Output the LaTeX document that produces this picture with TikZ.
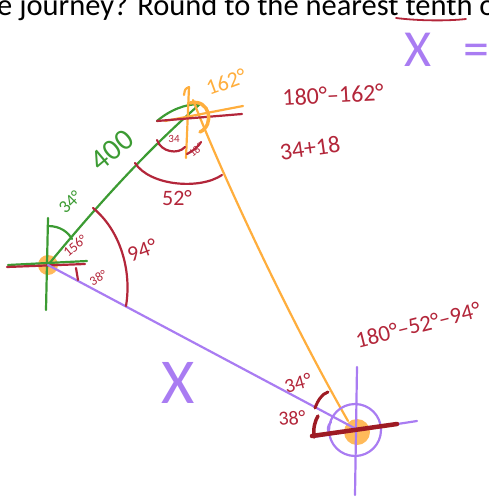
\documentclass[tikz,border=0pt]{standalone}
\usepackage{fontspec}
\setmainfont{Carlito}
\usepackage{tikz}
\usepackage{xcolor}
\definecolor{PenRed}{HTML}{B3263A}
\definecolor{PenGreen}{HTML}{3C9B33}
\definecolor{PenOrange}{HTML}{FFAE3D}
\definecolor{PenPurple}{HTML}{A97CF2}
\definecolor{PenMaroon}{HTML}{9E1B24}
\newcommand{\handsize}[1]{\fontsize{#1}{#1}\selectfont}
\tikzset{
    every node/.style={inner sep=0pt},
    pen/.style={draw=#1, line width=2.2pt, line cap=round, line join=round},
    heavypen/.style={draw=#1, line width=4.5pt, line cap=round},
    blob/.style={fill=#1, opacity=0.85},
    scrawl/.style={text=#1},
}

\begin{document}
\begin{tikzpicture}[x=1pt, y=-1pt]
    \clip (0,0) rectangle (489,498);

    % Points of the journey
    \coordinate (A) at (48,265);
    \coordinate (B) at (197,114);
    \coordinate (C) at (355,431);

    % Question text
    \node[anchor=base west, font=\handsize{30.5}] (question) at (-3,15) {e journey? Round to the nearest tenth of};
    \draw[pen=PenRed, line width=1.8pt] (396,18) .. controls (420,21) and (448,21) .. (466,19);

    % Answer line, top right
    \node[scrawl=PenPurple, font=\handsize{52}, anchor=west] (answer) at (404,50) {X\hspace{32pt}=};

    % Orange blobs
    \fill[blob=PenOrange] (A) circle (10);
    \fill[blob=PenOrange] (357,432) circle (13);

    % Cross at A
    \draw[pen=PenGreen] (48,218) -- (46,310);
    \draw[pen=PenGreen] (8,265) -- (87,261);
    \draw[pen=PenRed] (7,267) -- (85,264);

    % Leg A to B
    \draw[pen=PenGreen] (A) .. controls (105,196) and (150,148) .. (200,104);
    \draw[pen=PenGreen] (157,121) .. controls (170,110) and (185,104) .. (200,104);

    % Leg B to C
    \draw[pen=PenOrange] (193,100) .. controls (222,175) and (290,320) .. (348,421);

    % Leg A to C
    \draw[pen=PenPurple] (A) -- (358,430);

    % Cross at B
    \draw[pen=PenOrange] (184,95) .. controls (185,89) .. (189,87) -- (186,158);
    \draw[pen=PenOrange] (165,121) -- (243,106);
    \draw[pen=PenRed] (157,121) -- (242,114);
    \draw[pen=PenOrange, line width=3.5pt] (190,103) .. controls (210,98) and (215,125) .. (200,132);

    % Cross at C
    \draw[pen=PenPurple] (357,367) -- (355,495);
    \draw[pen=PenPurple] (313,437) -- (417,421);
    \draw[pen=PenPurple] (355,430) circle (26);
    \draw[pen=PenPurple] (331,422) .. controls (327,426) and (327,431) .. (330,434);
    \draw[heavypen=PenMaroon] (312,436) -- (397,424);

    % Angle marks at A
    \draw[pen=PenGreen] (48,226) .. controls (60,226) and (68,232) .. (72,239);
    \draw[pen=PenRed] (76,268) -- (78,280);
    \draw[pen=PenRed] (93,208) .. controls (120,230) and (132,270) .. (126,306);

    % Angle marks at B
    \draw[pen=PenRed] (157,140) .. controls (161,152) and (178,155) .. (185,147);
    \draw[pen=PenRed] (187,154) .. controls (193,151) and (198,147) .. (201,142);
    \draw[pen=PenRed] (135,163) .. controls (150,186) and (200,190) .. (222,175);

    % Angle marks at C
    \draw[heavypen=PenMaroon, line width=3.5pt] (314,437) .. controls (313,428) and (315,421) .. (318,416);
    \draw[pen=PenMaroon, line width=3pt] (315,408) .. controls (318,400) and (322,394) .. (328,392);

    % Labels at A
    \node[scrawl=PenGreen, font=\handsize{18}, rotate=45] (northA) at (70,202) {34°};
    \node[scrawl=PenGreen, font=\handsize{30}, rotate=40] (distAB) at (112,150) {400};
    \node[scrawl=PenRed, font=\handsize{14}, rotate=40] (interiorA) at (75,246) {156°};
    \node[scrawl=PenRed, font=\handsize{13}, rotate=30] (lowA) at (98,278) {38°};
    \node[scrawl=PenRed, font=\handsize{22}, rotate=20] (angleA) at (142,250) {94°};

    % Labels at B
    \node[scrawl=PenRed, font=\handsize{11}] (leftB) at (174,139) {34};
    \node[scrawl=PenRed, font=\handsize{11}, rotate=40] (rightB) at (196,150) {18°};
    \node[scrawl=PenRed, font=\handsize{22}] (angleB) at (177,198) {52°};
    \node[scrawl=PenOrange, font=\handsize{22}, rotate=20] (bearingB) at (226,82) {162°};

    % Working
    \node[scrawl=PenRed, font=\handsize{24}, rotate=3] (workOne) at (333,95) {180°–162°};
    \node[scrawl=PenRed, font=\handsize{24}, rotate=8] (workTwo) at (310,148) {34+18};
    \node[scrawl=PenRed, font=\handsize{23}, rotate=14] (workThree) at (418,325) {180°–52°–94°};

    % Labels at C
    \node[scrawl=PenRed, font=\handsize{20}, rotate=15] (upperC) at (298,383) {34°};
    \node[scrawl=PenRed, font=\handsize{20}, rotate=5] (lowerC) at (292,418) {38°};

    % Unknown side
    \node[scrawl=PenPurple, font=\handsize{64}] (sideX) at (178,383) {X};
\end{tikzpicture}
\end{document}
